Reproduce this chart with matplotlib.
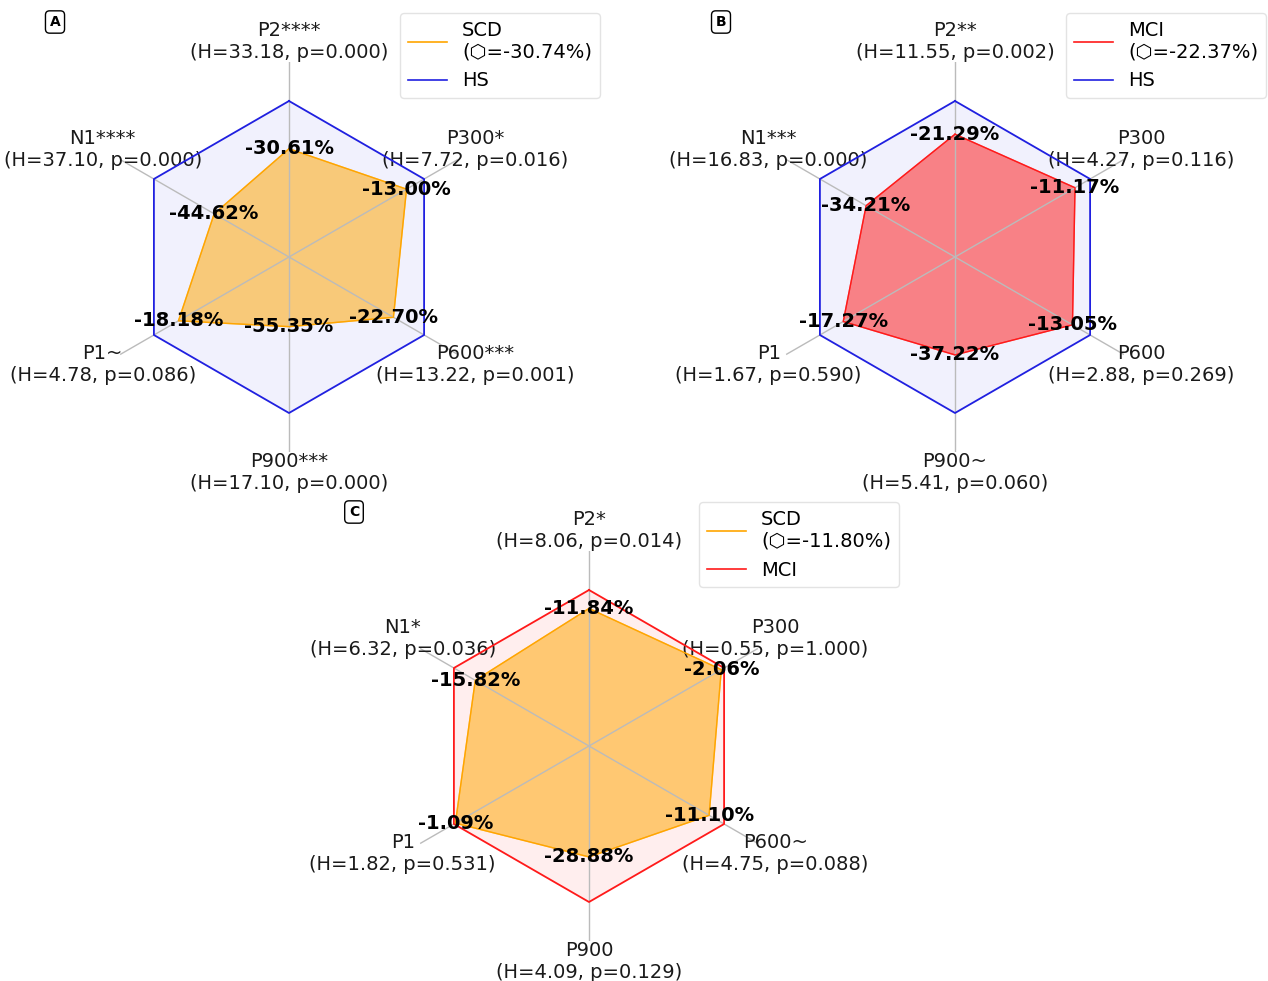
import numpy as np
import matplotlib
matplotlib.use("Agg")
import matplotlib.pyplot as plt
from matplotlib.lines import Line2D

# ERP components, clockwise from the top
components = ["P2", "P300", "P600", "P900", "P1", "N1"]

# Panel A: SCD relative to HS (% change)
scd_vs_hs = [-30.61, -13.00, -22.70, -55.35, -18.18, -44.62]
scd_vs_hs_stars = ["****", "*", "***", "***", "~", "****"]
scd_vs_hs_H = [33.18, 7.72, 13.22, 17.10, 4.78, 37.10]
scd_vs_hs_p = [0.000, 0.016, 0.001, 0.000, 0.086, 0.000]

# Panel B: MCI relative to HS (% change)
mci_vs_hs = [-21.29, -11.17, -13.05, -37.22, -17.27, -34.21]
mci_vs_hs_stars = ["**", "", "", "~", "", "***"]
mci_vs_hs_H = [11.55, 4.27, 2.88, 5.41, 1.67, 16.83]
mci_vs_hs_p = [0.002, 0.116, 0.269, 0.060, 0.590, 0.000]

# Panel C: SCD relative to MCI (% change)
scd_vs_mci = [-11.84, -2.06, -11.10, -28.88, -1.09, -15.82]
scd_vs_mci_stars = ["*", "", "~", "", "", "*"]
scd_vs_mci_H = [8.06, 0.55, 4.75, 4.09, 1.82, 6.32]
scd_vs_mci_p = [0.014, 1.000, 0.088, 0.129, 0.531, 0.036]

W, H = 1268, 981
fig = plt.figure(figsize=(W / 100, H / 100), dpi=100)
plt.rcParams["font.family"] = ["DejaVu Sans"]

n = len(components)
angles = np.arange(n) * 2 * np.pi / n
RMAX = 1.25


def radar(center, letter, values, stars, hvals, pvals, grp, grp_color,
          ref, ref_color, ref_alpha, legend_xy):
    cx, cy = center
    rad = 195
    ax = fig.add_axes([(cx - rad) / W, (H - cy - rad) / H, 2 * rad / W, 2 * rad / H],
                      projection="polar")
    ax.set_theta_offset(np.pi / 2)
    ax.set_theta_direction(-1)
    ang_closed = np.append(angles, angles[0])
    ref_r = np.ones(n + 1)
    grp_r = 1 + np.append(values, values[0]) / 100.0

    ax.fill(ang_closed, ref_r, color=ref_color, alpha=ref_alpha, zorder=1)
    ax.plot(ang_closed, ref_r, color=ref_color, lw=1.3, zorder=2)
    ax.fill(ang_closed, grp_r, color=grp_color, alpha=0.52, zorder=1)
    ax.plot(ang_closed, grp_r, color=grp_color, lw=1.0, zorder=2)

    for a, v, r in zip(angles, values, grp_r[:-1]):
        ax.text(a, r, f"{v:.2f}%", ha="center", va="center",
                fontsize=14, fontweight="bold", zorder=5)

    ax.set_xticks(angles)
    ax.set_xticklabels([f"{c}{s}\n(H={h:.2f}, p={p:.3f})"
                        for c, s, h, p in zip(components, stars, hvals, pvals)],
                       fontsize=14, color="#1a1a1a")
    ax.set_ylim(0, RMAX)
    ax.set_yticks([])
    ax.tick_params(axis="x", pad=4)
    ax.xaxis.grid(True, color="#bbbbbb", lw=1.0)
    ax.yaxis.grid(False)
    ax.spines["polar"].set_visible(False)
    ax.set_facecolor("none")

    mean_change = np.mean(values)
    handles = [Line2D([], [], color=grp_color, lw=1.2),
               Line2D([], [], color=ref_color, lw=1.2)]
    labels = [f"{grp}\n(\u2b21={mean_change:.2f}%)", ref]
    ax.legend(handles, labels, loc="upper left",
              bbox_to_anchor=(legend_xy[0] / W, 1 - legend_xy[1] / H),
              bbox_transform=fig.transFigure, fontsize=14,
              frameon=True, fancybox=True, framealpha=0.8,
              edgecolor="#dddddd", handlelength=2.0, borderaxespad=0)

    fig.text(letter[1][0] / W, 1 - letter[1][1] / H, letter[0],
             ha="center", va="center", fontsize=10, fontweight="bold",
             bbox=dict(boxstyle="round,pad=0.3", fc="white", ec="black", lw=1.0))
    return ax


blue = "#2020e0"
red = "#ff1a1a"
orange = "#ffa500"

radar((289, 257), ("A", (55, 22)), scd_vs_hs, scd_vs_hs_stars, scd_vs_hs_H, scd_vs_hs_p,
      "SCD", orange, "HS", blue, 0.06, (400, 13))
radar((955, 257), ("B", (721, 22)), mci_vs_hs, mci_vs_hs_stars, mci_vs_hs_H, mci_vs_hs_p,
      "MCI", red, "HS", blue, 0.06, (1066, 13))
radar((589, 746), ("C", (354, 512)), scd_vs_mci, scd_vs_mci_stars, scd_vs_mci_H, scd_vs_mci_p,
      "SCD", orange, "MCI", red, 0.07, (699, 502))

fig.savefig("out.png", dpi=100)
